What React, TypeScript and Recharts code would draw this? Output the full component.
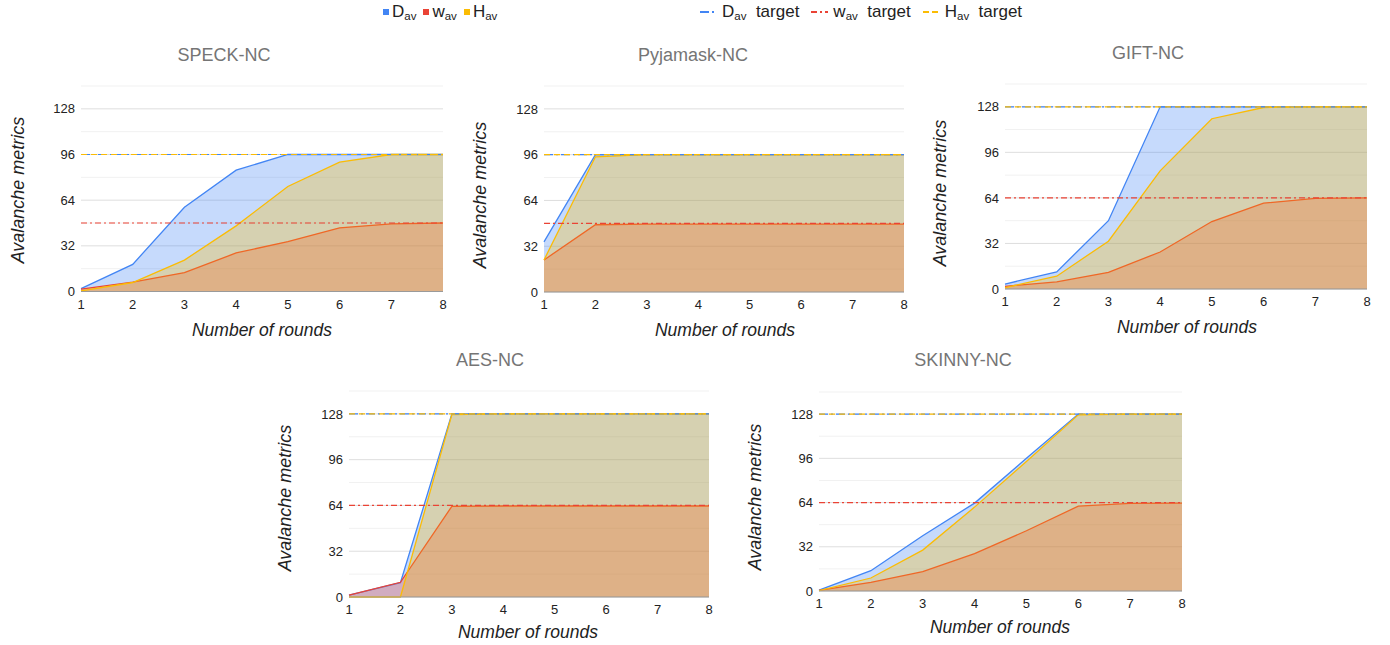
import { ComposedChart, Area, XAxis, YAxis, CartesianGrid, ReferenceLine } from 'recharts';

const rounds = [1, 2, 3, 4, 5, 6, 7, 8];
const yTicks = [0, 32, 64, 96, 128];
const minorTicks = [16, 48, 80, 112, 144];

const speckD = [2, 19, 59, 85, 96, 96, 96, 96];
const speckW = [1.6, 6.5, 13.3, 27, 35, 44.6, 47.4, 48];
const speckH = [0.5, 6.3, 22, 46, 73.6, 90.6, 96, 96];
const speckTargets = { D: 96, w: 48, H: 96 };

const pyjamaskD = [35, 96, 96, 96, 96, 96, 96, 96];
const pyjamaskW = [22.4, 47, 47.5, 47.5, 47.5, 47.5, 47.5, 47.5];
const pyjamaskH = [22.4, 94.5, 96, 96, 96, 96, 96, 96];
const pyjamaskTargets = { D: 96, w: 48, H: 96 };

const giftD = [3.5, 12, 48, 128, 128, 128, 128, 128];
const giftW = [1.9, 5, 11.7, 26, 47.4, 60.3, 63.6, 64];
const giftH = [1, 9, 33.6, 83, 119.6, 127.5, 128, 128];
const giftTargets = { D: 128, w: 64, H: 128 };

const aesD = [1.3, 10, 128, 128, 128, 128, 128, 128];
const aesW = [1.3, 10.3, 63.4, 63.6, 63.6, 63.6, 63.6, 63.6];
const aesH = [0, 0, 127.5, 128, 128, 128, 128, 128];
const aesTargets = { D: 128, w: 64, H: 128 };

const skinnyD = [0.7, 14.7, 40, 63.6, 96, 128, 128, 128];
const skinnyW = [0.5, 6.3, 14, 27, 43.6, 61.4, 63.4, 63.6];
const skinnyH = [0.2, 9.4, 29.6, 60.7, 93.7, 127.5, 128, 128];
const skinnyTargets = { D: 128, w: 64, H: 128 };

const BLUE = '#4285f4';
const RED = '#ea4335';
const YELLOW = '#fbbc04';
const DASH_D = '9 3 2 3';
const DASH_W = '6 3 2 3';
const DASH_H = '6 4';
const FONT = '"Liberation Sans", Arial, sans-serif';

const Av = ({ letter }: { letter: string }) => (
  <span>
    {letter}
    <span style={{ fontSize: 11.5, position: 'relative', top: 3 }}>av</span>
  </span>
);

type PanelProps = {
  title: string;
  D: number[];
  w: number[];
  H: number[];
  targets: { D: number; w: number; H: number };
  plot: [number, number, number, number]; // left, right, top(144), bottom(0)
  titleAt: [number, number];
  yLabelAt: [number, number];
  xLabelAt: [number, number];
};

const Panel = ({ title, D, w, H, targets, plot, titleAt, yLabelAt, xLabelAt }: PanelProps) => {
  const data = rounds.map((r, i) => ({ round: r, D: D[i], w: w[i], H: H[i] }));
  const [pl, pr, pt, pb] = plot;
  const yw = 40;
  const top = 5;
  const xh = 25;
  const width = pr - pl + yw + 5;
  const height = pb - pt + top + xh;
  return (
    <>
      <div style={{ position: 'absolute', left: titleAt[0], top: titleAt[1], transform: 'translate(-50%, -50%)', fontSize: 18, color: '#757575', whiteSpace: 'nowrap' }}>
        {title}
      </div>
      <div style={{ position: 'absolute', left: yLabelAt[0], top: yLabelAt[1], transform: 'translate(-50%, -50%) rotate(-90deg)', fontSize: 18, fontStyle: 'italic', color: '#222', whiteSpace: 'nowrap' }}>
        Avalanche metrics
      </div>
      <div style={{ position: 'absolute', left: xLabelAt[0], top: xLabelAt[1], transform: 'translate(-50%, -50%)', fontSize: 17.5, fontStyle: 'italic', color: '#222', whiteSpace: 'nowrap' }}>
        Number of rounds
      </div>
      <div style={{ position: 'absolute', left: pl - yw, top: pt - top }}>
        <ComposedChart width={width} height={height} data={data} margin={{ top, right: 5, left: 0, bottom: 0 }}>
          <CartesianGrid vertical={false} horizontalValues={minorTicks} stroke="#f1f1f1" />
          <CartesianGrid vertical={false} horizontalValues={yTicks} stroke="#dedede" />
          <XAxis
            dataKey="round"
            type="number"
            domain={[1, 8]}
            ticks={rounds}
            interval={0}
            height={xh}
            tickLine={false}
            axisLine={{ stroke: '#9a9a9a' }}
            tick={{ fontSize: 13, fill: '#222', fontFamily: FONT }}
          />
          <YAxis
            type="number"
            domain={[0, 144]}
            ticks={yTicks}
            interval={0}
            width={yw}
            axisLine={false}
            tickLine={false}
            tickMargin={0}
            tick={{ fontSize: 13, fill: '#222', fontFamily: FONT }}
          />
          <Area type="linear" dataKey="D" stroke={BLUE} strokeWidth={1.3} fill={BLUE} fillOpacity={0.3} dot={false} activeDot={false} isAnimationActive={false} />
          <Area type="linear" dataKey="w" stroke={RED} strokeWidth={1.3} fill={RED} fillOpacity={0.3} dot={false} activeDot={false} isAnimationActive={false} />
          <Area type="linear" dataKey="H" stroke={YELLOW} strokeWidth={1.3} fill={YELLOW} fillOpacity={0.3} dot={false} activeDot={false} isAnimationActive={false} />
          <ReferenceLine y={targets.D} stroke={BLUE} strokeWidth={1.2} strokeDasharray={DASH_D} />
          <ReferenceLine y={targets.w} stroke={RED} strokeWidth={1.2} strokeDasharray={DASH_W} />
          <ReferenceLine y={targets.H} stroke={YELLOW} strokeWidth={1.2} strokeDasharray={DASH_H} />
        </ComposedChart>
      </div>
    </>
  );
};

const LineIcon = ({ color, dash }: { color: string; dash: string }) => (
  <svg width={17} height={10} style={{ marginRight: 5 }}>
    <line x1={0} y1={5} x2={17} y2={5} stroke={color} strokeWidth={2} strokeDasharray={dash} />
  </svg>
);

const Square = ({ color }: { color: string }) => (
  <span style={{ display: 'inline-block', width: 6, height: 6, background: color, marginRight: 3 }} />
);

const Legend = () => (
  <>
    <div style={{ position: 'absolute', left: 383, top: 2, display: 'flex', alignItems: 'center', gap: 7, fontSize: 17, color: '#222' }}>
      <span style={{ display: 'flex', alignItems: 'center' }}><Square color={BLUE} /><Av letter="D" /></span>
      <span style={{ display: 'flex', alignItems: 'center' }}><Square color={RED} /><Av letter="w" /></span>
      <span style={{ display: 'flex', alignItems: 'center' }}><Square color={YELLOW} /><Av letter="H" /></span>
    </div>
    <div style={{ position: 'absolute', left: 700, top: 2, display: 'flex', alignItems: 'center', gap: 12, fontSize: 17, color: '#222' }}>
      <span style={{ display: 'flex', alignItems: 'center', whiteSpace: 'pre' }}><LineIcon color={BLUE} dash="9 3 2 3" /><Av letter="D" />{'  target'}</span>
      <span style={{ display: 'flex', alignItems: 'center', whiteSpace: 'pre' }}><LineIcon color={RED} dash="6 3 2 3" /><Av letter="w" />{'  target'}</span>
      <span style={{ display: 'flex', alignItems: 'center', whiteSpace: 'pre' }}><LineIcon color={YELLOW} dash="6 3" /><Av letter="H" />{'  target'}</span>
    </div>
  </>
);

export default function App() {
  return (
    <div style={{ position: 'absolute', left: 0, top: 0, width: 1390, height: 645, background: '#fff', fontFamily: FONT, overflow: 'hidden' }}>
      <Legend />
      <Panel title="SPECK-NC" D={speckD} w={speckW} H={speckH} targets={speckTargets}
        plot={[81, 443, 85.5, 291]} titleAt={[224, 55]} yLabelAt={[18, 190]} xLabelAt={[262, 330]} />
      <Panel title="Pyjamask-NC" D={pyjamaskD} w={pyjamaskW} H={pyjamaskH} targets={pyjamaskTargets}
        plot={[544, 904, 86, 292]} titleAt={[693, 55]} yLabelAt={[480, 195]} xLabelAt={[725, 330]} />
      <Panel title="GIFT-NC" D={giftD} w={giftW} H={giftH} targets={giftTargets}
        plot={[1005, 1367, 84, 289]} titleAt={[1148, 53]} yLabelAt={[940, 193]} xLabelAt={[1187, 327]} />
      <Panel title="AES-NC" D={aesD} w={aesW} H={aesH} targets={aesTargets}
        plot={[349, 709, 391, 597]} titleAt={[490, 360]} yLabelAt={[285, 498]} xLabelAt={[528, 632]} />
      <Panel title="SKINNY-NC" D={skinnyD} w={skinnyW} H={skinnyH} targets={skinnyTargets}
        plot={[819, 1182, 392, 591]} titleAt={[963, 360]} yLabelAt={[755, 497]} xLabelAt={[1000, 627]} />
    </div>
  );
}
